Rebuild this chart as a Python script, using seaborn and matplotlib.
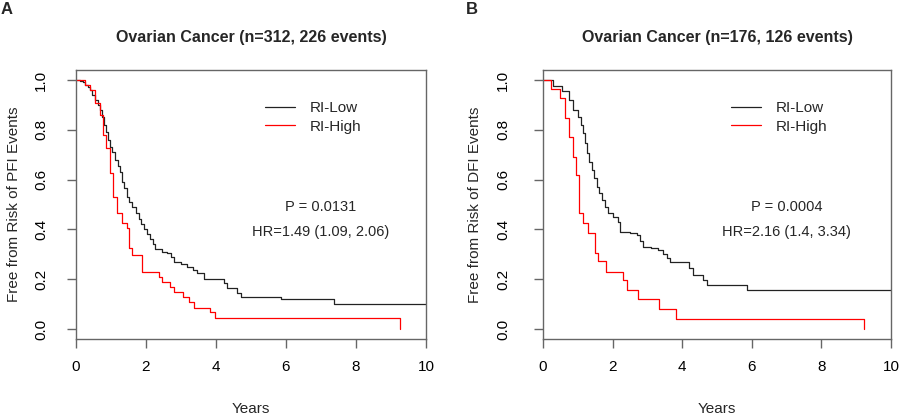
import numpy as np
import pandas as pd
import matplotlib
matplotlib.use("Agg")
import matplotlib.pyplot as plt
from matplotlib.lines import Line2D
import seaborn as sns

# ---------------- data ----------------
groups = ["RI-Low", "RI-High"]

a_low_time = [0, 0.1, 0.2, 0.26, 0.33, 0.4, 0.47, 0.54, 0.62, 0.69, 0.75, 0.8, 0.86, 0.92,
              0.97, 1.04, 1.12, 1.2, 1.26, 1.31, 1.36, 1.45, 1.52, 1.6, 1.7, 1.79, 1.86,
              1.93, 2.02, 2.12, 2.2, 2.26, 2.45, 2.6, 2.7, 2.79, 3.0, 3.17, 3.35, 3.46,
              3.65, 4.22, 4.32, 4.6, 4.7, 5.85, 7.37, 10.0]
a_low_surv = [1.0, 0.995, 0.99, 0.98, 0.97, 0.96, 0.94, 0.92, 0.90, 0.88, 0.85, 0.82, 0.79, 0.76,
              0.73, 0.71, 0.68, 0.655, 0.63, 0.59, 0.565, 0.53, 0.51, 0.49, 0.465, 0.44, 0.42,
              0.40, 0.38, 0.36, 0.34, 0.32, 0.31, 0.305, 0.29, 0.27, 0.26, 0.25, 0.235, 0.224,
              0.20, 0.185, 0.163, 0.145, 0.13, 0.12, 0.10, 0.10]

a_high_time = [0, 0.26, 0.4, 0.54, 0.69, 0.76, 0.86, 0.97, 1.05, 1.17, 1.31, 1.45, 1.52, 1.6,
               1.88, 2.36, 2.45, 2.69, 2.79, 3.07, 3.22, 3.36, 3.84, 3.98, 9.26]
a_high_surv = [1.0, 0.98, 0.96, 0.906, 0.86, 0.78, 0.727, 0.625, 0.53, 0.465, 0.425, 0.405, 0.325,
               0.297, 0.23, 0.21, 0.19, 0.17, 0.15, 0.127, 0.11, 0.083, 0.07, 0.045, 0.0]

b_low_time = [0, 0.3, 0.55, 0.75, 0.87, 1.0, 1.08, 1.16, 1.21, 1.26, 1.33, 1.4, 1.47, 1.54, 1.62,
              1.69, 1.78, 1.88, 2.0, 2.16, 2.21, 2.5, 2.69, 2.78, 2.88, 3.1, 3.31, 3.45, 3.55,
              3.65, 4.2, 4.32, 4.6, 4.7, 5.85, 10.0]
b_low_surv = [1.0, 0.976, 0.956, 0.92, 0.88, 0.853, 0.82, 0.786, 0.745, 0.705, 0.67, 0.64, 0.605,
              0.57, 0.545, 0.52, 0.49, 0.465, 0.45, 0.43, 0.39, 0.385, 0.378, 0.355, 0.33, 0.325,
              0.317, 0.30, 0.284, 0.27, 0.245, 0.217, 0.197, 0.177, 0.157, 0.157]

b_high_time = [0, 0.22, 0.49, 0.63, 0.76, 0.87, 0.96, 1.04, 1.16, 1.3, 1.49, 1.57, 1.81, 2.29,
               2.42, 2.74, 3.34, 3.82, 9.23]
b_high_surv = [1.0, 0.963, 0.926, 0.846, 0.77, 0.69, 0.62, 0.465, 0.427, 0.384, 0.306, 0.273,
               0.23, 0.197, 0.157, 0.119, 0.079, 0.041, 0.0]

titles = ["Ovarian Cancer (n=312, 226 events)", "Ovarian Cancer (n=176, 126 events)"]
ylabels = ["Free from Risk of PFI Events", "Free from Risk of DFI Events"]
pvals = ["P = 0.0131", "P = 0.0004"]
hrs = ["HR=1.49 (1.09, 2.06)", "HR=2.16 (1.4, 3.34)"]
panel_letters = ["A", "B"]
xticks = [0, 2, 4, 6, 8, 10]
yticks = [0.0, 0.2, 0.4, 0.6, 0.8, 1.0]

# ---------------- style ----------------
sns.set_style("white")
plt.rcParams["font.family"] = ["Liberation Sans", "DejaVu Sans"]

palette = {"RI-Low": "#222222", "RI-High": "#ff0000"}
frame_col = "#666666"

def make_df(lt, ls, ht, hs):
    d1 = pd.DataFrame({"time": lt, "surv": ls, "group": "RI-Low"})
    d2 = pd.DataFrame({"time": ht, "surv": hs, "group": "RI-High"})
    return pd.concat([d1, d2], ignore_index=True)

dfs = [make_df(a_low_time, a_low_surv, a_high_time, a_high_surv),
       make_df(b_low_time, b_low_surv, b_high_time, b_high_surv)]

fig = plt.figure(figsize=(9, 4.15), dpi=100)
W, H = 900, 415
ax_specs = [(76, 426), (543, 891)]
ylab_x = [-0.177, -0.195]
ytick_pad = [13.5, 17.0]

for i, (l, r) in enumerate(ax_specs):
    ax = fig.add_axes([l / W, 1 - 339 / H, (r - l) / W, 269 / H])
    sns.lineplot(data=dfs[i], x="time", y="surv", hue="group", hue_order=groups,
                 palette=palette, estimator=None, sort=True, drawstyle="steps-post",
                 linewidth=0.9, legend=False, ax=ax)
    ax.set_xlim(0, 10)
    ax.set_ylim(-10 / 249, 1 + 10 / 249)
    ax.set_xticks(xticks)
    ax.set_xticklabels([str(t) for t in xticks])
    ax.set_yticks(yticks)
    ax.set_yticklabels([f"{t:.1f}" for t in yticks])
    for s in ax.spines.values():
        s.set_visible(True)
        s.set_color(frame_col)
        s.set_linewidth(1.0)
    ax.tick_params(axis="both", direction="out", length=6.5, width=1.0, color=frame_col,
                   labelsize=11, labelcolor="black")
    ax.tick_params(axis="x", pad=8.5, bottom=True)
    ax.tick_params(axis="y", pad=ytick_pad[i], left=True, labelrotation=90)
    for lab in ax.get_yticklabels():
        lab.set_va("center")
        lab.set_ha("right")
    ax.set_xlabel("Years", fontsize=11)
    ax.xaxis.label.set_va("center")
    ax.xaxis.set_label_coords(0.5, -0.262)
    ax.set_ylabel(ylabels[i], fontsize=11)
    ax.yaxis.label.set_va("center")
    ax.yaxis.set_label_coords(ylab_x[i], 0.5)
    ax.set_title(titles[i], fontsize=11.5, fontweight="bold", pad=20)

    handles = [Line2D([], [], color=palette[g], lw=0.9) for g in groups]
    ax.legend(handles, groups, loc="upper left", bbox_to_anchor=(0.54, 0.885),
              frameon=False, fontsize=11, handlelength=1.95, handletextpad=1.0,
              labelspacing=0.3, borderpad=0, borderaxespad=0)
    ax.text(7.0, 0.49, pvals[i], ha="center", va="center", fontsize=10.5)
    ax.text(7.0, 0.39, hrs[i], ha="center", va="center", fontsize=10.5)

    fig.text((7 if i == 0 else 472) / W, 1 - 9 / H, panel_letters[i], fontsize=12,
             fontweight="bold", ha="center", va="center")

fig.savefig("out.png", dpi=100)
